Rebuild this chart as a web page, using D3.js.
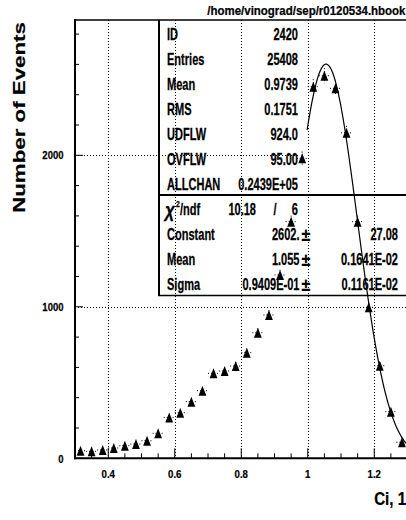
<!DOCTYPE html>
<html>
<head>
<meta charset="utf-8">
<script src="https://cdn.jsdelivr.net/npm/d3@7"></script>
<style>
  html, body { margin: 0; padding: 0; background: #fff; }
  svg { display: block; }
  text { font-family: "Liberation Sans", Arial, sans-serif; font-weight: bold; fill: #000; stroke: #000; stroke-width: 0.25px; }
</style>
</head>
<body>
<svg id="chart" width="406" height="520"></svg>
<script>
// Histogram contents: 30 bins over [0.3, 1.3]
const binLow = 0.3;
const binHigh = 1.3;
const binCounts = [50, 46, 55, 68, 83, 94, 116, 165, 270, 301,
                   374, 446, 561, 576, 609, 697, 829, 946, 1210, 1562,
                   1980, 2453, 2525, 2442, 2148, 1562, 997, 611, 308, 106];

// Gaussian fit result and fit range
const fitParams = { constant: 2602, mean: 1.055, sigma: 0.09409 };
const fitRange = [0.998, 1.3];

// Axis ticks
const xTickLabels = [0.4, 0.6, 0.8, 1.0, 1.2];
const yTickLabels = [0, 1000, 2000];
const yMax = 2893;

// Statistics box
const statLabels = ["ID", "Entries", "Mean", "RMS", "UDFLW", "OVFLW", "ALLCHAN"];
const statValues = ["2420", "25408", "0.9739", "0.1751", "924.0", "95.00", "0.2439E+05"];
const chi2Value = "10.18";
const ndfValue = "6";
const fitLabels = ["Constant", "Mean", "Sigma"];
const fitValues = ["2602.", "1.055", "0.9409E-01"];
const fitErrors = ["27.08", "0.1641E-02", "0.1161E-02"];

const fileTitle = "/home/vinograd/sep/r0120534.hbook";
const xTitle = "Ci, 1";
const yTitle = "Number of Events";

// ---- layout ----
const plot = { left: 75, right: 407.5, top: 20, bottom: 458.3 };
const svg = d3.select("#chart");

const x = d3.scaleLinear().domain([binLow, binHigh]).range([plot.left, plot.right]);
const y = d3.scaleLinear().domain([0, yMax]).range([plot.bottom, plot.top]);

const nBins = binCounts.length;
const binWidth = (binHigh - binLow) / nBins;
const bins = binCounts.map((c, i) => ({ x: binLow + (i + 0.5) * binWidth, c }));

function label(g, str, px, py, size, sx, anchor) {
  return g.append("text")
    .attr("transform", `translate(${px},${py}) scale(${sx},1)`)
    .attr("text-anchor", anchor || "start")
    .style("font-size", size + "px")
    .text(str);
}

// grid lines (dotted)
const grid = svg.append("g").attr("stroke", "#000").attr("stroke-width", 1)
  .attr("stroke-dasharray", "1,2").attr("fill", "none");
xTickLabels.forEach(v => {
  grid.append("line").attr("x1", Math.round(x(v)) + 0.5).attr("x2", Math.round(x(v)) + 0.5)
    .attr("y1", plot.top).attr("y2", plot.bottom);
});
grid.append("line").attr("x1", plot.left).attr("x2", plot.right)
  .attr("y1", Math.round(y(1000)) + 0.5).attr("y2", Math.round(y(1000)) + 0.5);
grid.append("line").attr("x1", plot.left).attr("x2", x(0.975))
  .attr("y1", Math.round(y(2000)) + 0.5).attr("y2", Math.round(y(2000)) + 0.5);

// axes frame
const frame = svg.append("g").attr("stroke", "#000").attr("fill", "none");
frame.append("line").attr("x1", plot.left).attr("x2", plot.left)
  .attr("y1", plot.top - 1).attr("y2", plot.bottom + 1).attr("stroke-width", 2);
frame.append("line").attr("x1", plot.left - 1).attr("x2", plot.right)
  .attr("y1", plot.bottom).attr("y2", plot.bottom).attr("stroke-width", 2);
frame.append("line").attr("x1", plot.left).attr("x2", plot.right)
  .attr("y1", plot.top).attr("y2", plot.top).attr("stroke-width", 1.5);

// x ticks: minor every 0.05, major at labelled values
const xMinor = d3.range(0, 21).map(i => +(binLow + i * 0.05).toFixed(2));
xMinor.forEach(v => {
  const major = xTickLabels.some(t => Math.abs(t - v) < 1e-6);
  frame.append("line").attr("x1", x(v)).attr("x2", x(v))
    .attr("y1", plot.bottom).attr("y2", plot.bottom - (major ? 10 : 5)).attr("stroke-width", 1);
});
// y ticks: minor every 200, major every 1000
d3.range(0, yMax, 200).forEach(v => {
  const major = v % 1000 === 0;
  frame.append("line").attr("x1", plot.left).attr("x2", plot.left + (major ? 8 : 4))
    .attr("y1", y(v)).attr("y2", y(v)).attr("stroke-width", 1);
});

// tick labels
const labels = svg.append("g");
xTickLabels.forEach(v => label(labels, d3.format("")(v), x(v), 478.3, 11.6, 0.83, "middle"));
yTickLabels.forEach(v => label(labels, String(v), 63.5, y(v) + 4.2, 11.6, 0.82, "end"));

// axis titles and file name
label(labels, xTitle, 406, 505, 18.6, 0.81, "end");
labels.append("text")
  .attr("transform", "translate(24.5,117.5) rotate(-90) scale(1,0.77)")
  .attr("text-anchor", "middle").style("font-size", "22.3px").text(yTitle);
label(labels, fileTitle, 405.5, 15, 13.5, 0.85, "end");

// error bars (dotted)
const err = svg.append("g").attr("stroke", "#000").attr("stroke-width", 1)
  .attr("stroke-dasharray", "1,2");
bins.forEach(b => {
  err.append("line").attr("x1", x(b.x - binWidth / 2)).attr("x2", x(b.x + binWidth / 2))
    .attr("y1", y(b.c)).attr("y2", y(b.c));
  err.append("line").attr("x1", x(b.x)).attr("x2", x(b.x))
    .attr("y1", y(b.c + Math.sqrt(b.c))).attr("y2", y(b.c - Math.sqrt(b.c)));
});

// triangle markers
const triW = 7.8, triH = 10;
const triPath = `M0,${-triH / 2}L${triW / 2},${triH / 2}L${-triW / 2},${triH / 2}Z`;
svg.append("g").selectAll("path").data(bins).join("path")
  .attr("d", triPath)
  .attr("transform", d => `translate(${x(d.x)},${y(d.c)})`)
  .attr("fill", "#000");

// Gaussian fit curve
const gauss = v => fitParams.constant * Math.exp(-0.5 * Math.pow((v - fitParams.mean) / fitParams.sigma, 2));
const fitPts = d3.range(fitRange[0], fitRange[1] + 1e-9, 0.002).map(v => [v, gauss(v)]);
svg.append("path")
  .datum(fitPts)
  .attr("fill", "none").attr("stroke", "#000").attr("stroke-width", 1.2)
  .attr("d", d3.line().x(d => x(d[0])).y(d => y(d[1])));

// statistics box
const box = svg.append("g");
const boxLeft = 159, boxTop = 20, boxDiv = 195, boxBottom = 295.5, boxRight = 430;
box.append("line").attr("x1", boxLeft).attr("x2", boxLeft).attr("y1", boxTop).attr("y2", boxBottom)
  .attr("stroke", "#000").attr("stroke-width", 2);
box.append("line").attr("x1", boxLeft).attr("x2", boxRight).attr("y1", boxDiv).attr("y2", boxDiv)
  .attr("stroke", "#000").attr("stroke-width", 2);
box.append("line").attr("x1", boxLeft - 1).attr("x2", boxRight).attr("y1", boxBottom).attr("y2", boxBottom)
  .attr("stroke", "#000").attr("stroke-width", 1.6);

const rowY = i => 40 + 25 * i;
const fs = 16, sx = 0.69;
statLabels.forEach((s, i) => {
  label(box, s, 167, rowY(i), fs, sx, "start");
  label(box, statValues[i], 298, rowY(i), fs, sx, "end");
});

// chi-square row
const chiRow = rowY(7);
box.append("text").attr("transform", `translate(165,${chiRow + 2}) scale(0.8,1)`)
  .style("font-size", "21px").style("font-style", "italic").text("χ");
label(box, "2", 176, chiRow - 8, 9, 0.75, "start");
label(box, "/ndf", 180, chiRow, fs, sx, "start");
label(box, chi2Value, 256, chiRow, fs, sx, "end");
label(box, "/", 275, chiRow, fs, sx, "middle");
label(box, ndfValue, 298, chiRow, fs, sx, "end");

fitLabels.forEach((s, i) => {
  const ry = rowY(8 + i);
  label(box, s, 167, ry, fs, sx, "start");
  label(box, fitValues[i], 299.5, ry, fs, sx, "end");
  label(box, "±", 306, ry + 1, 19, 0.85, "middle");
  label(box, fitErrors[i], 398, ry, fs, sx, "end");
});
</script>
</body>
</html>
